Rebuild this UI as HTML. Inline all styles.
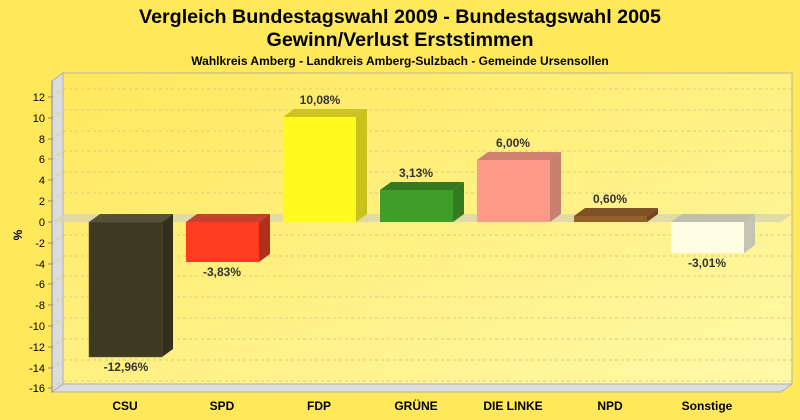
<!DOCTYPE html>
<html><head><meta charset="utf-8"><style>
body{margin:0;background:#FFE95A;}
svg{display:block;font-family:"Liberation Sans",sans-serif;}
</style></head><body>
<svg width="800" height="420" viewBox="0 0 800 420">
<defs>
<linearGradient id="bg" x1="0" y1="0" x2="1" y2="1">
<stop offset="0" stop-color="#FFE85C"/><stop offset="1" stop-color="#FFF8A8"/>
</linearGradient>
</defs>
<rect width="800" height="420" fill="#FFE95A"/>
<text x="400" y="23" font-size="19.7" font-weight="bold" text-anchor="middle">Vergleich Bundestagswahl 2009 - Bundestagswahl 2005</text>
<text x="400" y="46" font-size="19.7" font-weight="bold" text-anchor="middle">Gewinn/Verlust Erststimmen</text>
<text x="400" y="65" font-size="12" font-weight="bold" text-anchor="middle">Wahlkreis Amberg - Landkreis Amberg-Sulzbach - Gemeinde Ursensollen</text>
<rect x="63" y="73" width="729" height="311" fill="url(#bg)" stroke="#B8B39A" stroke-width="1"/>
<polygon points="52,81 63,73 63,384 52,392" fill="#DCDCDC" stroke="#B0B0B0"/>
<polygon points="52,392 63,384 792,384 781,392" fill="#DCDCDC" stroke="#B0B0B0"/>
<g stroke="#D8CC88" stroke-dasharray="3,3" stroke-width="1" fill="none">
<path d="M63,89H792M63,110H792M63,131H792M63,151H792M63,172H792M63,193H792M63,235H792M63,256H792M63,276H792M63,297H792M63,318H792M63,339H792M63,360H792M63,381H792"/>
<path d="M52,97L63,89M52,118L63,110M52,139L63,131M52,159L63,151M52,180L63,172M52,201L63,193M52,243L63,235M52,264L63,256M52,284L63,276M52,305L63,297M52,326L63,318M52,347L63,339M52,368L63,360M52,388L63,381"/>
</g>
<polygon points="52,222 63,214 792,214 781,222" fill="#D8D4B0" opacity="0.8"/>
<g stroke="#888" stroke-width="1">
<line x1="52" y1="81" x2="52" y2="392"/>
<path d="M48,97H52M48,118H52M48,139H52M48,159H52M48,180H52M48,201H52M48,222H52M48,243H52M48,264H52M48,284H52M48,305H52M48,326H52M48,347H52M48,368H52M48,388H52"/>
</g>
<g font-size="11" text-anchor="end">
<text x="45" y="101">12</text><text x="45" y="122">10</text><text x="45" y="143">8</text><text x="45" y="163">6</text><text x="45" y="184">4</text><text x="45" y="205">2</text><text x="45" y="226">0</text><text x="45" y="247">-2</text><text x="45" y="268">-4</text><text x="45" y="288">-6</text><text x="45" y="309">-8</text><text x="45" y="330">-10</text><text x="45" y="351">-12</text><text x="45" y="372">-14</text><text x="45" y="392">-16</text>
</g>
<text x="22" y="235" font-size="12" transform="rotate(-90 22 235)" text-anchor="middle" font-weight="bold">%</text>
<polygon points="89,222 100,214 173,214 162,222" fill="#55503A"/>
<polygon points="162,222 173,214 173,349 162,357" fill="#34301E"/>
<rect x="89" y="222" width="73" height="135" fill="#3E3A22" stroke="#5a5640" stroke-width="0.5"/>
<polygon points="186,222 197,214 270,214 259,222" fill="#C84030"/>
<polygon points="259,222 270,214 270,254 259,262" fill="#B0301C"/>
<rect x="186" y="222" width="73" height="40" fill="#FF3C22"/>
<polygon points="283,117 294,109 367,109 356,117" fill="#CCC420"/>
<polygon points="356,117 367,109 367,214 356,222" fill="#C8C21A"/>
<rect x="283" y="117" width="73" height="105" fill="#FFFA1E"/>
<polygon points="380,190 391,182 464,182 453,190" fill="#357A20"/>
<polygon points="453,190 464,182 464,214 453,222" fill="#357A20"/>
<rect x="380" y="190" width="73" height="32" fill="#3E9E28"/>
<polygon points="477,160 488,152 561,152 550,160" fill="#D08070"/>
<polygon points="550,160 561,152 561,214 550,222" fill="#C88070"/>
<rect x="477" y="160" width="73" height="62" fill="#FF9A88"/>
<polygon points="574,216 585,208 658,208 647,216" fill="#805028"/>
<polygon points="647,216 658,208 658,214 647,222" fill="#704820"/>
<rect x="574" y="216" width="73" height="6" fill="#94602A"/>
<polygon points="671,222 682,214 755,214 744,222" fill="#C0C0B0"/>
<polygon points="744,222 755,214 755,245 744,253" fill="#C4C4B4"/>
<rect x="671" y="222" width="73" height="31" fill="#FFFDE4"/>
<g font-size="12" font-weight="bold" fill="#333" text-anchor="middle">
<text x="126" y="371">-12,96%</text>
<text x="222" y="276">-3,83%</text>
<text x="320" y="104">10,08%</text>
<text x="416" y="177">3,13%</text>
<text x="513" y="147">6,00%</text>
<text x="610" y="203">0,60%</text>
<text x="707" y="267">-3,01%</text>
</g>
<g font-size="12" font-weight="bold" text-anchor="middle">
<text x="125" y="410">CSU</text><text x="222" y="410">SPD</text><text x="319" y="410">FDP</text><text x="416" y="410">GRÜNE</text><text x="513" y="410">DIE LINKE</text><text x="610" y="410">NPD</text><text x="707" y="410">Sonstige</text>
</g>
</svg>
</body></html>
